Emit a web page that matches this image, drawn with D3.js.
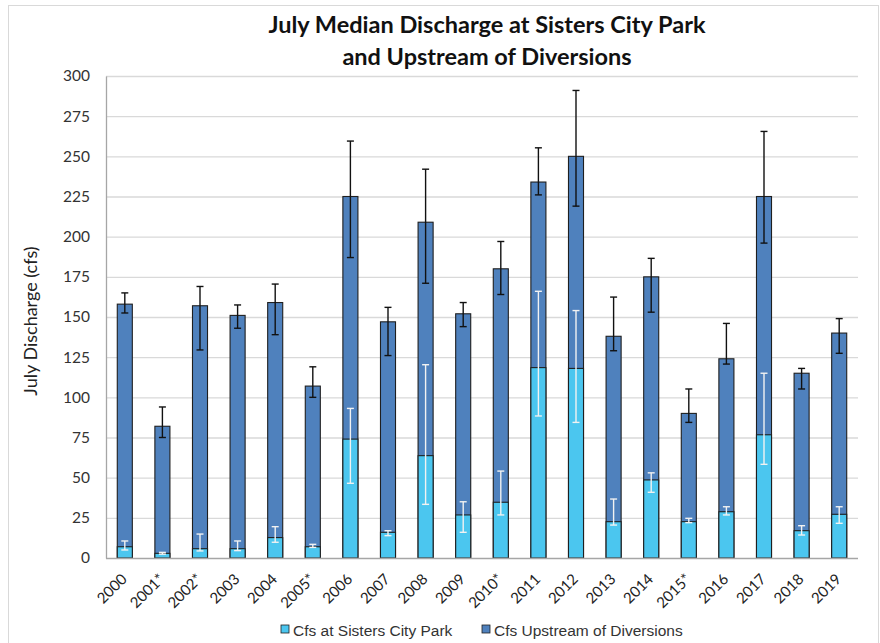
<!DOCTYPE html>
<html><head><meta charset="utf-8">
<script src="https://cdn.jsdelivr.net/npm/d3@7"></script>
<style>body{margin:0;background:#fff;}svg{display:block;}</style>
</head><body>
<svg id="c" width="880" height="643"></svg>
<script>
const years = ["2000","2001*","2002*","2003","2004","2005*","2006","2007","2008","2009","2010*","2011","2012","2013","2014","2015*","2016","2017","2018","2019"];
const upstream = [158,82,157,151,159,107,225,147,209,152,180,234,250,138,175,90,124,225,115,140];
const upstreamLow = [152.5,75,129.5,143,139,100,187,126,171,144,164,226,219,129,153,84.4,120.7,196,105.2,127.4];
const upstreamHigh = [165,94,169,157.5,170.5,119,259.5,156,242,159,197,255.3,291,162.4,186.5,105.2,146,265.5,118,149];
const park = [7,2.9,5.8,5.8,12.7,7,74,16,63.7,26.8,34.7,118.5,118,22.6,48.6,22.6,28.8,76.7,17,27.2];
const parkLow = [5,2.4,4.4,4.6,9.8,6.6,46.5,13.9,33.4,16,26.8,88.4,84.4,20.5,40.9,22,26.8,58.3,14.3,21.6];
const parkHigh = [10.6,3.5,14.9,10.6,19.5,8.5,93.1,17,120.3,35,54.1,166,154,36.7,53,24.7,31.9,115,20.1,31.9];
const yTicks = [0,25,50,75,100,125,150,175,200,225,250,275,300];
const seriesNames = ["Cfs at Sisters City Park","Cfs Upstream of Diversions"];
const colors = {park:"#4bc6ef", up:"#4f81bd"};

const svg = d3.select("#c");
const L=106, R=858, T=76, B=558;
svg.append("rect").attr("x",8.5).attr("y",5.5).attr("width",870).attr("height",640).attr("fill","none").attr("stroke","#d9d9d9");

const x = d3.scaleBand().domain(years).range([L,R]).paddingInner(0.6).paddingOuter(0.3);
const y = d3.scaleLinear().domain([0,300]).range([B,T]);

// gridlines
svg.append("g").selectAll("line").data(yTicks.filter(d=>d>0)).join("line")
  .attr("x1",L).attr("x2",R).attr("y1",d=>y(d)+0.5).attr("y2",d=>y(d)+0.5)
  .attr("stroke","#d9d9d9").attr("stroke-width",1.3);

// y axis
const ya = svg.append("g").attr("transform",`translate(${L},0)`)
  .call(d3.axisLeft(y).tickValues(yTicks).tickSize(0).tickPadding(16));
ya.select(".domain").attr("stroke","#a6a6a6").attr("stroke-width",1.3);
ya.selectAll("text").attr("font-family","Lato, 'Open Sans', sans-serif").attr("font-size",15.5).attr("fill","#333");

const bw = x.bandwidth();
const cx = d=>x(d)+bw/2;

// upstream bars
svg.append("g").selectAll("rect").data(years).join("rect")
  .attr("x",d=>x(d)).attr("width",bw)
  .attr("y",(d,i)=>y(upstream[i])).attr("height",(d,i)=>B-y(upstream[i]))
  .attr("fill",colors.up).attr("stroke","#1f1f1f").attr("stroke-width",1.1);

function errbars(low,high,color){
  const g = svg.append("g").attr("stroke",color).attr("stroke-width",1.4);
  years.forEach((d,i)=>{
    const c = cx(d);
    g.append("line").attr("x1",c).attr("x2",c).attr("y1",y(low[i])).attr("y2",y(high[i]));
    g.append("line").attr("x1",c-3.5).attr("x2",c+3.5).attr("y1",y(low[i])).attr("y2",y(low[i]));
    g.append("line").attr("x1",c-3.5).attr("x2",c+3.5).attr("y1",y(high[i])).attr("y2",y(high[i]));
  });
}
errbars(upstreamLow,upstreamHigh,"#111");

// park bars
svg.append("g").selectAll("rect").data(years).join("rect")
  .attr("x",d=>x(d)).attr("width",bw)
  .attr("y",(d,i)=>y(park[i])).attr("height",(d,i)=>B-y(park[i]))
  .attr("fill",colors.park).attr("stroke","#1f1f1f").attr("stroke-width",1.1);
errbars(parkLow,parkHigh,"#f2f2f2");

// x axis line
svg.append("line").attr("x1",L).attr("x2",R).attr("y1",B+0.5).attr("y2",B+0.5).attr("stroke","#a6a6a6").attr("stroke-width",1.5);

// x labels
const xa = svg.append("g").attr("transform",`translate(0,${B})`)
  .call(d3.axisBottom(x).tickSize(0).tickPadding(0));
xa.select(".domain").remove();
xa.selectAll("text").attr("font-family","Lato, 'Open Sans', sans-serif").attr("font-size",15).attr("fill","#222")
  .attr("text-anchor","end").attr("dy",0)
  .attr("transform","translate(3,22) rotate(-45)");

// y label
svg.append("text").attr("transform","translate(37,321) rotate(-90)").attr("text-anchor","middle")
  .attr("font-family","Lato, 'Open Sans', sans-serif").attr("font-size",18).attr("fill","#222")
  .text("July Discharge (cfs)");

// title
const title = svg.append("text").attr("text-anchor","middle").attr("font-family","Lato, 'Open Sans', sans-serif")
  .attr("font-weight","bold").attr("font-size",23.5).attr("fill","#111");
title.append("tspan").attr("x",487).attr("y",33).text("July Median Discharge at Sisters City Park");
title.append("tspan").attr("x",487).attr("y",65).text("and Upstream of Diversions");

// legend
const leg = svg.append("g").attr("font-family","'Liberation Sans', Arial, sans-serif").attr("font-size",15.5).attr("fill","#333");
const legItems = [{name:seriesNames[0],c:colors.park,x:281},{name:seriesNames[1],c:colors.up,x:482}];
legItems.forEach(it=>{
  leg.append("rect").attr("x",it.x).attr("y",625).attr("width",8).attr("height",8).attr("fill",it.c).attr("stroke","#222").attr("stroke-width",0.8);
  leg.append("text").attr("x",it.x+12).attr("y",636).text(it.name);
});
</script>
</body></html>
